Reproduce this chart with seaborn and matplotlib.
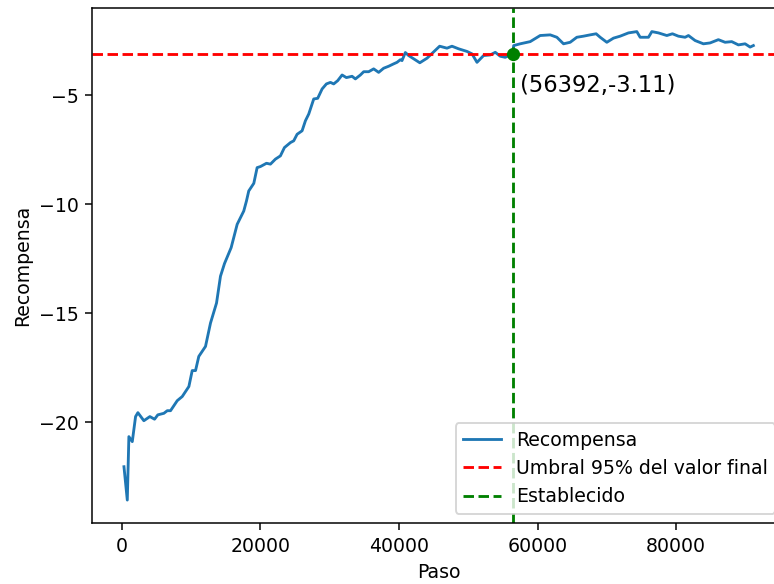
import matplotlib

matplotlib.use("Agg")
import matplotlib.pyplot as plt
import seaborn as sns

# Curva de recompensa
pasos = [
    300, 780, 1010, 1500, 1975, 2310, 3170, 4040, 4715, 5190,
    6060, 6550, 7020, 7990, 8710, 9670, 10150, 10630, 11100, 12070,
    12790, 13660, 14230, 14810, 15770, 16640, 17590, 17980, 18310, 19040,
    19520, 20000, 20870, 21440, 22160, 22880, 23460, 24330, 24800, 25290,
    26010, 26490, 26970, 27690, 28260, 28900, 29520, 30100, 30570, 31150,
    31780, 32400, 33220, 33700, 34420, 34900, 35620, 36340, 37060, 37780,
    38500, 39220, 39710, 40190, 40430, 40910, 41390, 43000, 44040, 45860,
    46920, 47640, 48600, 49810, 50530, 51250, 52200, 53170, 53890, 54610,
    55330, 56392, 56550, 57490, 58930, 60370, 61820, 62780, 63740, 64700,
    65660, 66620, 67580, 68450, 69030, 69990, 70950, 71910, 73110, 74320,
    74800, 76000, 76490, 77440, 78650, 79460, 80320, 81290, 81770, 82730,
    83930, 84890, 86090, 87060, 88020, 88980, 89950, 90670, 91140,
]
recompensa = [
    -22.05, -23.58, -20.67, -20.90, -19.75, -19.57, -19.94, -19.75, -19.87, -19.67,
    -19.60, -19.48, -19.48, -19.02, -18.83, -18.37, -17.64, -17.64, -16.99, -16.53,
    -15.46, -14.54, -13.31, -12.73, -12.00, -10.93, -10.32, -9.86, -9.40, -9.05,
    -8.33, -8.28, -8.13, -8.17, -7.94, -7.79, -7.41, -7.18, -7.10, -6.80,
    -6.64, -6.18, -5.87, -5.18, -5.15, -4.72, -4.49, -4.42, -4.49, -4.34,
    -4.08, -4.20, -4.14, -4.26, -4.08, -3.93, -3.93, -3.80, -3.96, -3.77,
    -3.68, -3.57, -3.50, -3.38, -3.42, -3.05, -3.19, -3.52, -3.31, -2.76,
    -2.85, -2.76, -2.88, -3.00, -3.11, -3.50, -3.19, -3.16, -3.04, -3.22,
    -3.27, -3.11, -2.73, -2.65, -2.55, -2.27, -2.24, -2.35, -2.65, -2.58,
    -2.35, -2.30, -2.24, -2.19, -2.35, -2.58, -2.39, -2.30, -2.15, -2.09,
    -2.35, -2.35, -2.09, -2.15, -2.27, -2.19, -2.30, -2.35, -2.27, -2.50,
    -2.65, -2.61, -2.46, -2.58, -2.55, -2.70, -2.65, -2.80, -2.73,
]

umbral = -3.11
paso_establecido = 56392

dpi = 136
fig = plt.figure(figsize=(774 / dpi, 584 / dpi), dpi=dpi)
fig.subplots_adjust(left=0.1195, right=1.014, bottom=0.1036, top=0.986)
ax = fig.add_subplot(111)

sns.lineplot(x=pasos, y=recompensa, label="Recompensa", ax=ax)
ax.axhline(umbral, color="r", linestyle="--", label="Umbral 95% del valor final")
ax.axvline(paso_establecido, color="g", linestyle="--", label="Establecido")
ax.plot(paso_establecido, umbral, "go")
ax.annotate(
    f"({paso_establecido},{umbral})",
    xy=(paso_establecido, umbral),
    xytext=(4, -20),
    textcoords="offset points",
    fontsize=12,
)

ax.set_xlabel("Paso")
ax.set_ylabel("Recompensa")
ax.legend(loc="lower right")

fig.savefig("out.png", dpi=dpi)
